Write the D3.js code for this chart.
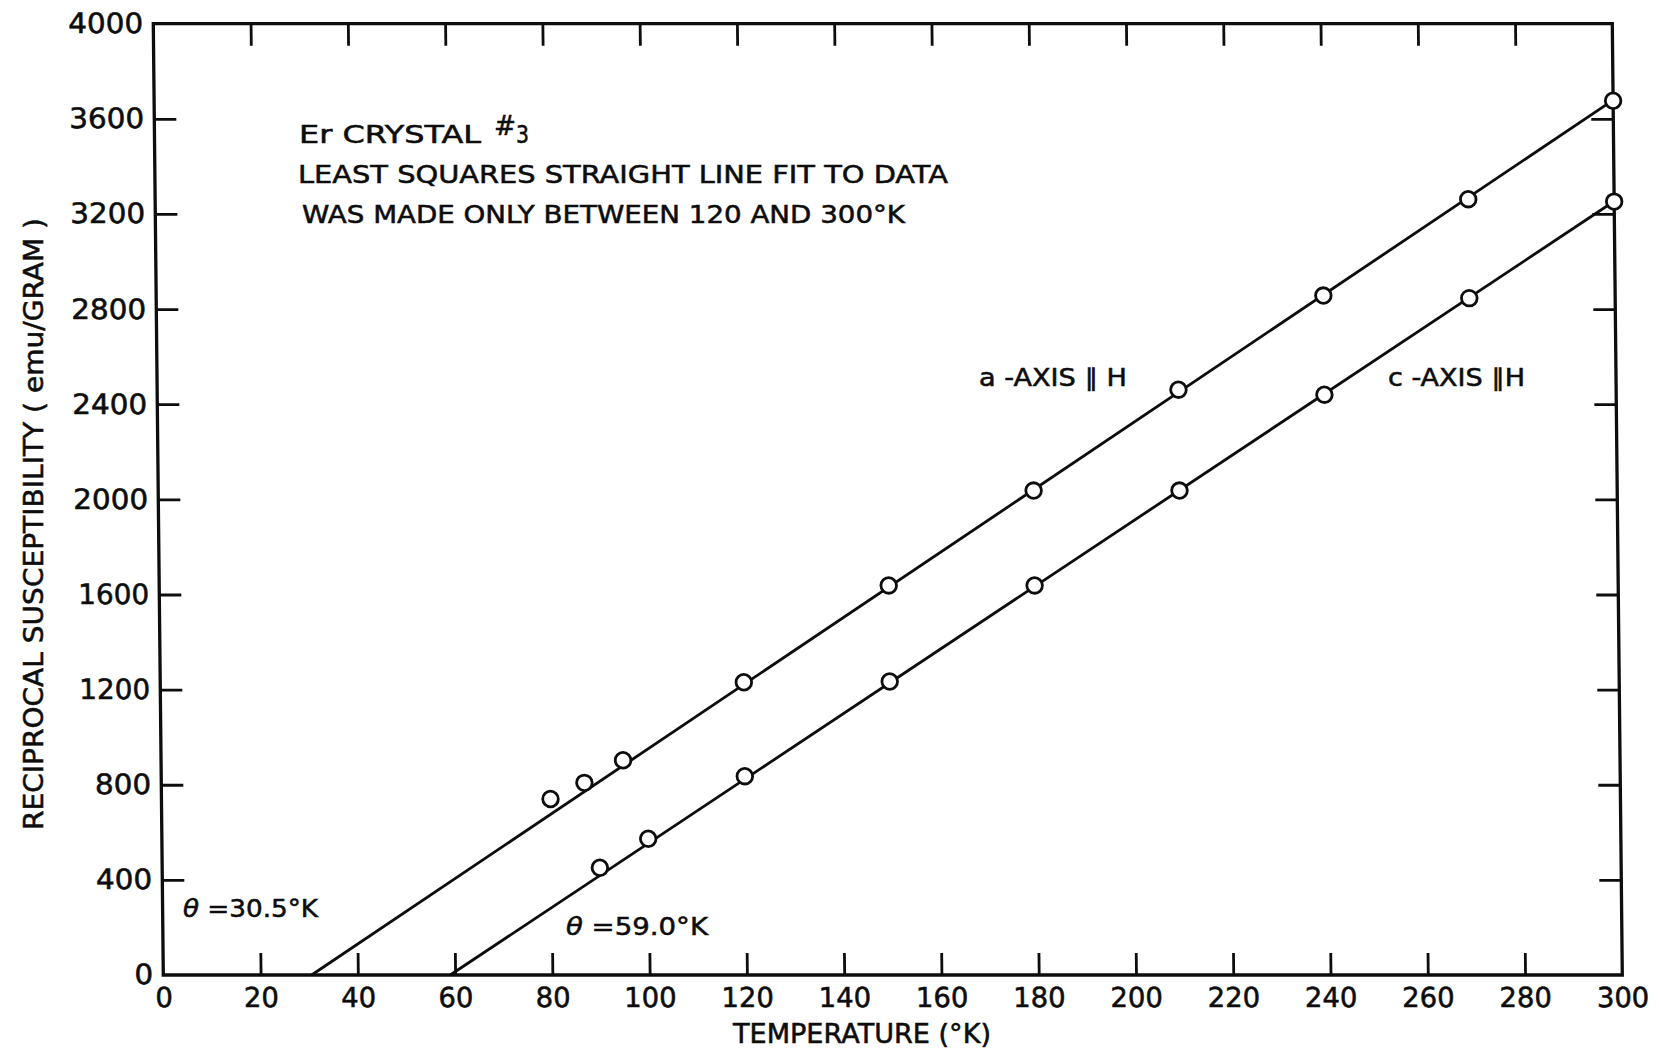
<!DOCTYPE html>
<html>
<head>
<meta charset="utf-8">
<script src="https://cdn.jsdelivr.net/npm/d3@7"></script>
<style>
  html, body { margin: 0; padding: 0; background: #fff; }
  svg { display: block; }
</style>
</head>
<body>
<script>
// Reciprocal susceptibility of an Er single crystal vs temperature
const temperatureTicks = d3.range(0, 301, 20);        // °K
const susceptibilityTicks = d3.range(0, 4001, 400);   // emu/gram

// a-axis parallel to H
const aAxisTemps  = [80, 87, 95, 120, 150, 180, 210, 240, 270, 300];
const aAxisValues = [740, 808, 903, 1231, 1638, 2037, 2461, 2857, 3262, 3676];

// c-axis parallel to H
const cAxisTemps  = [90, 100, 120, 150, 180, 210, 240, 270, 300];
const cAxisValues = [451, 573, 836, 1234, 1638, 2037, 2440, 2846, 3252];

// paramagnetic Curie temperatures (line intercepts) and the fitted range
const thetaA = 30.5;
const thetaC = 59.0;
const fitRange = [120, 300];

const W = 1659, H = 1049;
const frame = { left: 163.3, right: 1622.3, top: 23.7, bottom: 975 };
const ink = "#0d0d0d";
const font = "'DejaVu Sans', 'Liberation Sans', sans-serif";
const textWeight = 0.55;   // extra outline to give the lettering its pen weight

const svg = d3.select("body").append("svg")
  .attr("width", W).attr("height", H)
  .attr("viewBox", `0 0 ${W} ${H}`);

svg.append("rect").attr("width", W).attr("height", H).attr("fill", "#fff");

const x = d3.scaleLinear().domain([0, 300]).range([frame.left, frame.right]);
const y = d3.scaleLinear().domain([0, 4000]).range([frame.bottom, frame.top]);

// the drawing frame leans slightly to the left towards the top
const lean = Math.atan(10 / (frame.bottom - frame.top)) * 180 / Math.PI;
const plot = svg.append("g")
  .attr("transform", `translate(0,${frame.bottom}) skewX(${lean}) translate(0,${-frame.bottom})`);

// least-squares slope through the fixed intercept theta, using points in the fit range
function fitSlope(temps, values, theta) {
  let num = 0, den = 0;
  temps.forEach((t, i) => {
    if (t >= fitRange[0] && t <= fitRange[1]) {
      const dx = t - theta;
      num += dx * values[i];
      den += dx * dx;
    }
  });
  return num / den;
}

const tickLen = 22;
const styleAxis = (g, size) => {
  g.select(".domain").remove();
  g.selectAll(".tick line").attr("stroke", ink).attr("stroke-width", 2.8);
  g.selectAll(".tick text")
    .attr("fill", ink).attr("stroke", ink).attr("stroke-width", textWeight)
    .attr("font-family", font).attr("font-size", size);
  g.attr("font-family", font);
};

const innerX = temperatureTicks.filter(d => d > 0 && d < 300);
const innerY = susceptibilityTicks.filter(d => d > 0 && d < 4000);

// bottom axis with labels
plot.append("g")
  .attr("transform", `translate(0,${frame.bottom})`)
  .call(d3.axisBottom(x).tickValues(temperatureTicks).tickSize(-tickLen).tickPadding(12).tickFormat(d3.format("d")))
  .call(g => styleAxis(g, 27.5))
  .call(g => g.selectAll(".tick line").filter(d => d === 0 || d === 300).remove());

// top axis ticks
plot.append("g")
  .attr("transform", `translate(0,${frame.top})`)
  .call(d3.axisTop(x).tickValues(innerX).tickSize(-tickLen).tickFormat(""))
  .call(g => styleAxis(g, 27));

// left axis with labels; the round digits are drawn a little wider than the font's
plot.append("g")
  .attr("transform", `translate(${frame.left},0)`)
  .call(d3.axisLeft(y).tickValues(susceptibilityTicks).tickSize(-tickLen).tickPadding(10).tickFormat(d3.format("d")))
  .call(g => styleAxis(g, 28))
  .call(g => g.selectAll(".tick line").filter(d => d === 0 || d === 4000).remove())
  .call(g => g.selectAll(".tick text")
    .filter(d => !String(d).includes("1"))
    .attr("textLength", d => String(d).length * 18.8)
    .attr("lengthAdjust", "spacingAndGlyphs"));

// right axis ticks
plot.append("g")
  .attr("transform", `translate(${frame.right},0)`)
  .call(d3.axisRight(y).tickValues(innerY).tickSize(-tickLen).tickFormat(""))
  .call(g => styleAxis(g, 28));

// frame
plot.append("rect")
  .attr("x", x(0)).attr("y", y(4000))
  .attr("width", x(300) - x(0)).attr("height", y(0) - y(4000))
  .attr("fill", "none").attr("stroke", ink).attr("stroke-width", 3.3);

// fitted straight lines from theta up to 300 K
const series = [
  { temps: aAxisTemps, values: aAxisValues, theta: thetaA },
  { temps: cAxisTemps, values: cAxisValues, theta: thetaC }
];
const line = d3.line().x(d => x(d[0])).y(d => y(d[1]));
series.forEach(s => {
  const slope = fitSlope(s.temps, s.values, s.theta);
  const tEnd = d3.max(s.temps);
  plot.append("path")
    .attr("d", line([[s.theta, 0], [tEnd, slope * (tEnd - s.theta)]]))
    .attr("fill", "none").attr("stroke", ink).attr("stroke-width", 2.8);
});

// measured points
series.forEach(s => {
  plot.append("g").selectAll("circle")
    .data(s.temps.map((t, i) => [t, s.values[i]]))
    .join("circle")
    .attr("cx", d => x(d[0])).attr("cy", d => y(d[1]))
    .attr("r", 7.8)
    .attr("fill", "#fff").attr("stroke", ink).attr("stroke-width", 2.8);
});

// annotations
const note = (txt, px, py, size, len, anchor) => {
  const t = svg.append("text")
    .attr("x", px).attr("y", py)
    .attr("font-family", font).attr("font-size", size)
    .attr("fill", ink).attr("stroke", ink).attr("stroke-width", textWeight)
    .attr("text-anchor", anchor || "start")
    .text(txt);
  if (len) t.attr("textLength", len).attr("lengthAdjust", "spacingAndGlyphs");
  return t;
};

note("Er  CRYSTAL", 299, 143, 25, 182);
note("#", 494, 135, 27, 22);
note("3", 516, 143, 25, 13);
note("LEAST  SQUARES  STRAIGHT  LINE  FIT  TO  DATA", 298, 183, 25, 650);
note("WAS  MADE  ONLY  BETWEEN  120  AND  300°K", 302, 223, 25, 603);

note("a -AXIS ∥ H", 979, 386, 24, 148);
note("c -AXIS ∥H", 1388, 386, 24, 137);

const thetaLabel = (val, px, py, len) => {
  const t = svg.append("text")
    .attr("x", px).attr("y", py)
    .attr("font-family", font).attr("font-size", 25)
    .attr("fill", ink).attr("stroke", ink).attr("stroke-width", textWeight)
    .attr("textLength", len).attr("lengthAdjust", "spacingAndGlyphs");
  t.append("tspan").attr("font-style", "italic").text("θ");
  t.append("tspan").text(` =${val.toFixed(1)}°K`);
};
thetaLabel(thetaA, 183, 917, 135);
thetaLabel(thetaC, 566, 935, 142);

// axis titles
note("TEMPERATURE (°K)", 733, 1043, 26, 258);
svg.append("text")
  .attr("transform", "translate(43,524) rotate(-90)")
  .attr("text-anchor", "middle")
  .attr("font-family", font).attr("font-size", 26)
  .attr("fill", ink).attr("stroke", ink).attr("stroke-width", textWeight)
  .attr("textLength", 612).attr("lengthAdjust", "spacingAndGlyphs")
  .text("RECIPROCAL  SUSCEPTIBILITY  ( emu/GRAM )");
</script>
</body>
</html>
